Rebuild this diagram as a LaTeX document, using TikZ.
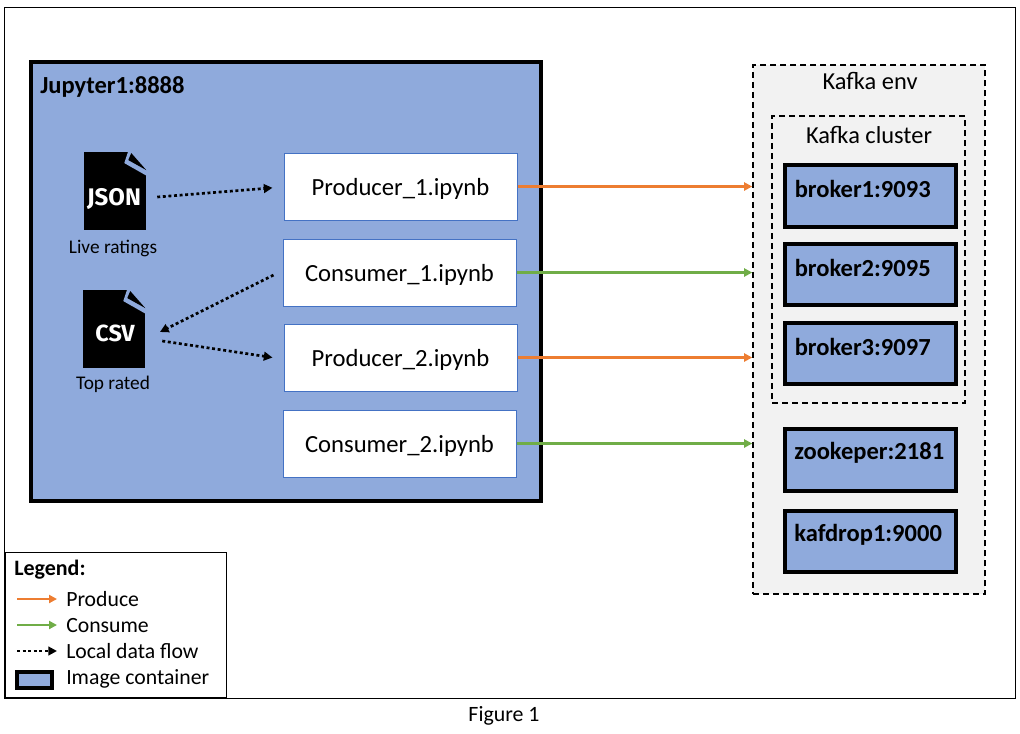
\documentclass[tikz,border=0pt]{standalone}
\usepackage{fontspec}
\setmainfont{Carlito}
\newfontfamily\iconfont{Fira Sans}
\usetikzlibrary{arrows.meta,positioning}

\definecolor{jupblue}{HTML}{8FAADC}
\definecolor{nbline}{HTML}{4472C4}
\definecolor{prodorange}{HTML}{ED7D31}
\definecolor{consgreen}{HTML}{70AD47}
\definecolor{envgray}{HTML}{F2F2F2}

\tikzset{
    container/.style={draw, line width=3pt, fill=jupblue, minimum width=128.25pt, minimum height=46pt},
    notebook/.style={draw=nbline, line width=0.75pt, fill=white, minimum width=174.75pt, minimum height=50.25pt, text height=14pt, text depth=1pt, font=\fontsize{18.5}{20}\selectfont},
    envbox/.style={draw, line width=1.2pt, dash pattern=on 4.5pt off 3pt, fill=envgray},
    boxtitle/.style={font=\fontsize{18.3}{20}\selectfont, inner sep=0pt},
    boxname/.style={font=\fontsize{18.4}{20}\selectfont\bfseries, inner sep=0pt, anchor=west},
    fileicon/.style={fill=black, minimum width=46.5pt, minimum height=58pt, inner sep=0pt},
    icontext/.style={text=white, inner sep=0pt, font=\iconfont\fontsize{18}{20}\selectfont\bfseries},
    filetext/.style={font=\fontsize{14.5}{16}\selectfont, inner sep=0pt},
    legendtext/.style={font=\fontsize{16.3}{18}\selectfont, inner sep=0pt, anchor=west},
    produce/.style={draw=prodorange, line width=1.9pt, -{Triangle[length=6pt,width=6pt]}},
    consume/.style={draw=consgreen, line width=1.9pt, -{Triangle[length=6pt,width=6pt]}},
    localflow/.style={line width=2pt, dash pattern=on 2.2pt off 2pt, -{Triangle[length=6.5pt,width=6.5pt]}}
}

% cut corner of a file icon
\newcommand{\filefold}[1]{
    \begin{scope}[shift={(#1.north east)}]
        \fill[jupblue] (-18,-1) -- (-22,11) -- (0,23.5) -- (1,23.5) -- (1,-1) -- cycle;
        \fill[black] (-15,1) -- (0,18) -- (-18,8) -- cycle;
    \end{scope}
}

\begin{document}
\begin{tikzpicture}[x=0.75pt, y=-0.75pt]

    \useasboundingbox[fill=white] (0,0) rectangle (1020,733);

    % Frame
    \node[draw, line width=0.75pt, minimum width=758.25pt, minimum height=518.25pt, inner sep=0pt] (frame) at (509.5,352.5) {};
    \node[font=\fontsize{16.4}{18}\selectfont, inner sep=0pt] (figlabel) at (504,716) {Figure 1};

    % ------------------ Jupyter ------------------

    \node[draw, line width=3pt, fill=jupblue, minimum width=382.5pt, minimum height=329.25pt] (jupyter) at (286,281.5) {};
    \node[boxname] (jupyterlabel) at (40,86.5) {Jupyter1:8888};

    % Notebooks
    \node[notebook] (prod1) at (400.5,186.5) {Producer\_1.ipynb};
    \node[notebook] (cons1) at (399.5,272.5) {Consumer\_1.ipynb};
    \node[notebook] (prod2) at (400.5,357.5) {Producer\_2.ipynb};
    \node[notebook] (cons2) at (399.5,443.5) {Consumer\_2.ipynb};

    % Files
    \node[fileicon] (jsonfile) at (115,191) {};
    \filefold{jsonfile}
    \node[icontext] (jsontext) at (114,199) {JSON};
    \node[filetext] (jsonlabel) at (113,248) {Live ratings};

    \node[fileicon] (csvfile) at (114,329) {};
    \filefold{csvfile}
    \node[icontext, font=\iconfont\fontsize{17.5}{20}\selectfont\bfseries] (csvtext) at (115,333) {CSV};
    \node[filetext] (csvlabel) at (113,384) {Top rated};

    % ------------------ Kafka ------------------

    \node[envbox, minimum width=174pt, minimum height=396.75pt] (env) at (869,329.5) {};
    \node[boxtitle] (envlabel) at (870,81) {Kafka env};

    \node[envbox, minimum width=144.75pt, minimum height=215.25pt] (cluster) at (868.5,259.5) {};
    \node[boxtitle] (clusterlabel) at (869,135) {Kafka cluster};

    \node[container] (broker1) at (870,196) {};
    \node[boxname] (broker1label) at (794.5,188.5) {broker1:9093};

    \node[container] (broker2) at (870,274.5) {};
    \node[boxname] (broker2label) at (794.5,267.5) {broker2:9095};

    \node[container] (broker3) at (870,353.5) {};
    \node[boxname] (broker3label) at (794.5,346.5) {broker3:9097};

    \node[container] (zookeper) at (870,460) {};
    \node[boxname] (zookeperlabel) at (794,452.5) {zookeper:2181};

    \node[container] (kafdrop) at (870,541.5) {};
    \node[boxname] (kafdroplabel) at (794,534.5) {kafdrop1:9000};

    % Arrows
    \draw[produce] (prod1.east) -- (prod1.east -| env.west);
    \draw[consume] (cons1.east) -- (cons1.east -| env.west);
    \draw[produce] (prod2.east) -- (prod2.east -| env.west);
    \draw[consume] (cons2.east) -- (cons2.east -| env.west);

    \draw[localflow] ([xshift=8.25pt,yshift=-4.5pt]jsonfile.east) -- ([xshift=-8.25pt,yshift=-1pt]prod1.west);
    \draw[localflow] ([xshift=-6.75pt,yshift=-1.9pt]cons1.west) -- ([xshift=11pt,yshift=-2.25pt]csvfile.east);
    \draw[localflow] ([xshift=12.75pt,yshift=-9pt]csvfile.east) -- ([xshift=-8.25pt]prod2.west);

    % ------------------ Legend ------------------

    \node[draw, line width=0.75pt, fill=white, minimum width=165.75pt, minimum height=108.75pt, inner sep=0pt] (legend) at (115.5,624.5) {};
    \node[legendtext, font=\fontsize{16.5}{18}\selectfont\bfseries] (legendtitle) at (14,570) {Legend:};

    \node[legendtext] (legproduce) at (66,599.5) {Produce};
    \node[legendtext] (legconsume) at (66,625.5) {Consume};
    \node[legendtext] (leglocal) at (66,651.5) {Local data flow};
    \node[legendtext] (legimage) at (66,679) {Image container};

    \coordinate (legproducestart) at (17,599);
    \coordinate (legproduceend) at (57,599);
    \coordinate (legconsumestart) at (17,625);
    \coordinate (legconsumeend) at (57,625);
    \coordinate (leglocalstart) at (17,651);
    \coordinate (leglocalend) at (57,651);

    \draw[produce] (legproducestart) -- (legproduceend);
    \draw[consume] (legconsumestart) -- (legconsumeend);
    \draw[localflow] (leglocalstart) -- (leglocalend);

    \node[draw, line width=3pt, fill=jupblue, minimum width=26.25pt, minimum height=12pt, inner sep=0pt] (legbox) at (34.5,680) {};

\end{tikzpicture}
\end{document}
